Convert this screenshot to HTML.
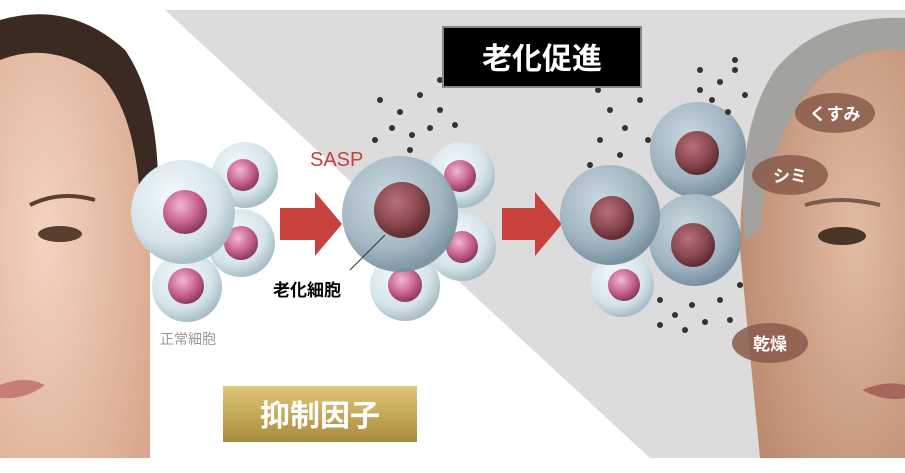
<!DOCTYPE html>
<html><head><meta charset="utf-8"><style>
body{margin:0;width:905px;height:468px;overflow:hidden;background:#fff;font-family:"Liberation Sans","Noto Sans CJK JP",sans-serif}
</style></head><body>
<svg width="905" height="468" viewBox="0 0 905 468" xmlns="http://www.w3.org/2000/svg">
<defs>
<radialGradient id="nc" cx="40%" cy="35%" r="65%"><stop offset="0" stop-color="#f4fafc"/><stop offset="0.7" stop-color="#d5e4ea"/><stop offset="1" stop-color="#a9bec8"/></radialGradient>
<radialGradient id="pk" cx="40%" cy="35%" r="65%"><stop offset="0" stop-color="#f0b8d0"/><stop offset="0.6" stop-color="#c9658f"/><stop offset="1" stop-color="#8c3a5e"/></radialGradient>
<radialGradient id="sc" cx="40%" cy="35%" r="65%"><stop offset="0" stop-color="#c9d8e0"/><stop offset="0.7" stop-color="#9fb3bf"/><stop offset="1" stop-color="#7890a0"/></radialGradient>
<radialGradient id="br" cx="40%" cy="35%" r="65%"><stop offset="0" stop-color="#b8707a"/><stop offset="0.6" stop-color="#8c4a52"/><stop offset="1" stop-color="#5e2a30"/></radialGradient>
<linearGradient id="gold" x1="0" y1="0" x2="0" y2="1"><stop offset="0" stop-color="#e0c97a"/><stop offset="1" stop-color="#a8893a"/></linearGradient>
<radialGradient id="skinL" cx="30%" cy="50%" r="80%"><stop offset="0" stop-color="#f3d3c0"/><stop offset="1" stop-color="#d9a88e"/></radialGradient>
<radialGradient id="skinR" cx="70%" cy="50%" r="80%"><stop offset="0" stop-color="#e2bba2"/><stop offset="1" stop-color="#b8876c"/></radialGradient>
</defs>
<polygon points="165,10 905,10 905,458 650,458" fill="#dcdcdc"/>
<!-- left face -->
<path d="M0,20 Q60,5 110,40 Q150,80 150,160 L150,458 L0,458Z" fill="url(#skinL)"/>
<path d="M0,20 Q70,0 125,50 Q160,100 158,200 L140,200 Q135,110 100,75 Q50,40 0,60Z" fill="#3a2a22"/>
<ellipse cx="60" cy="234" rx="22" ry="8" fill="#5a3e30"/>
<path d="M30,205 Q60,190 95,200" stroke="#5a3e30" stroke-width="4" fill="none"/>
<path d="M0,385 Q25,375 45,385 Q25,400 0,398Z" fill="#c57d74"/>
<!-- right face -->
<path d="M905,20 Q820,20 780,70 Q740,130 740,250 L760,458 L905,458Z" fill="url(#skinR)"/>
<path d="M905,18 Q820,15 775,70 Q735,130 745,240 L760,230 Q770,120 830,70 Q870,45 905,50Z" fill="#a4a29e"/>
<ellipse cx="842" cy="236" rx="24" ry="9" fill="#4a3428"/>
<path d="M805,205 Q840,195 880,205" stroke="#7a5a48" stroke-width="4" fill="none"/>
<path d="M862,390 Q885,380 905,385 L905,398 Q885,402 862,390Z" fill="#a8655c"/>
<!-- left cluster -->
<circle cx="245" cy="175" r="33" fill="url(#nc)"/><circle cx="243" cy="175" r="16" fill="url(#pk)"/>
<circle cx="241" cy="243" r="34" fill="url(#nc)"/><circle cx="241" cy="243" r="17" fill="url(#pk)"/>
<circle cx="187" cy="287" r="35" fill="url(#nc)"/><circle cx="186" cy="286" r="18" fill="url(#pk)"/>
<circle cx="183" cy="212" r="52" fill="url(#nc)"/><circle cx="185" cy="212" r="22" fill="url(#pk)"/>
<text x="160" y="344" font-size="14" fill="#999">正常細胞</text>
<!-- arrows -->
<polygon points="280,208 315,208 315,192 342,224 315,256 315,240 280,240" fill="#c9413d"/>
<polygon points="502,208 535,208 535,192 562,224 535,256 535,240 502,240" fill="#c9413d"/>
<!-- middle -->
<circle cx="462" cy="175" r="33" fill="url(#nc)"/><circle cx="460" cy="176" r="16" fill="url(#pk)"/>
<circle cx="462" cy="247" r="34" fill="url(#nc)"/><circle cx="462" cy="247" r="16" fill="url(#pk)"/>
<circle cx="405" cy="286" r="35" fill="url(#nc)"/><circle cx="405" cy="285" r="17" fill="url(#pk)"/>
<circle cx="400" cy="214" r="58" fill="url(#sc)" opacity="0.95"/><circle cx="402" cy="210" r="28" fill="url(#br)"/>
<line x1="350" y1="270" x2="385" y2="235" stroke="#333" stroke-width="1"/>
<text x="310" y="166" font-size="20" fill="#c9413d">SASP</text>
<text x="273" y="296" font-size="17" font-weight="bold" fill="#000">老化細胞</text>
<!-- right cluster -->
<circle cx="622" cy="285" r="32" fill="url(#nc)"/><circle cx="624" cy="285" r="16" fill="url(#pk)"/>
<circle cx="698" cy="150" r="48" fill="url(#sc)"/><circle cx="697" cy="153" r="22" fill="url(#br)"/>
<circle cx="695" cy="240" r="46" fill="url(#sc)"/><circle cx="693" cy="245" r="22" fill="url(#br)"/>
<circle cx="610" cy="215" r="50" fill="url(#sc)"/><circle cx="612" cy="218" r="22" fill="url(#br)"/>
<!-- dots -->
<g fill="#333">
<circle cx="380" cy="100" r="3"/><circle cx="400" cy="112" r="3"/><circle cx="420" cy="95" r="3"/><circle cx="440" cy="110" r="3"/><circle cx="392" cy="128" r="3"/><circle cx="412" cy="135" r="3"/><circle cx="430" cy="128" r="3"/><circle cx="455" cy="125" r="3"/><circle cx="375" cy="140" r="3"/><circle cx="440" cy="80" r="3"/><circle cx="410" cy="150" r="3"/>
<circle cx="598" cy="90" r="3"/><circle cx="610" cy="110" r="3"/><circle cx="625" cy="128" r="3"/><circle cx="640" cy="100" r="3"/><circle cx="600" cy="140" r="3"/><circle cx="620" cy="155" r="3"/><circle cx="648" cy="140" r="3"/><circle cx="590" cy="165" r="3"/>
<circle cx="700" cy="70" r="3"/><circle cx="720" cy="82" r="3"/><circle cx="735" cy="70" r="3"/><circle cx="712" cy="100" r="3"/><circle cx="728" cy="112" r="3"/><circle cx="745" cy="95" r="3"/><circle cx="700" cy="90" r="3"/><circle cx="735" cy="60" r="3"/>
<circle cx="660" cy="300" r="3"/><circle cx="675" cy="315" r="3"/><circle cx="692" cy="305" r="3"/><circle cx="705" cy="322" r="3"/><circle cx="720" cy="300" r="3"/><circle cx="685" cy="330" r="3"/><circle cx="740" cy="285" r="3"/><circle cx="730" cy="320" r="3"/><circle cx="660" cy="325" r="3"/>
</g>
<!-- labels on face -->
<ellipse cx="835" cy="113" rx="40" ry="20" fill="#8a5a4a" opacity="0.85"/><text x="835" y="120" font-size="17" font-weight="bold" fill="#fff" text-anchor="middle">くすみ</text>
<ellipse cx="790" cy="175" rx="38" ry="20" fill="#8a5a4a" opacity="0.85"/><text x="790" y="182" font-size="17" font-weight="bold" fill="#fff" text-anchor="middle">シミ</text>
<ellipse cx="770" cy="343" rx="38" ry="20" fill="#8a5a4a" opacity="0.85"/><text x="770" y="350" font-size="17" font-weight="bold" fill="#fff" text-anchor="middle">乾燥</text>
<!-- title boxes -->
<rect x="443" y="27" width="198" height="60" fill="#000" stroke="#888" stroke-width="2"/>
<text x="542" y="69" font-size="30" font-weight="bold" fill="#fff" text-anchor="middle">老化促進</text>
<rect x="222" y="385" width="196" height="58" fill="url(#gold)" stroke="#fff" stroke-width="2"/>
<text x="320" y="426" font-size="30" font-weight="bold" fill="#fff" text-anchor="middle">抑制因子</text>
</svg>
</body></html>
